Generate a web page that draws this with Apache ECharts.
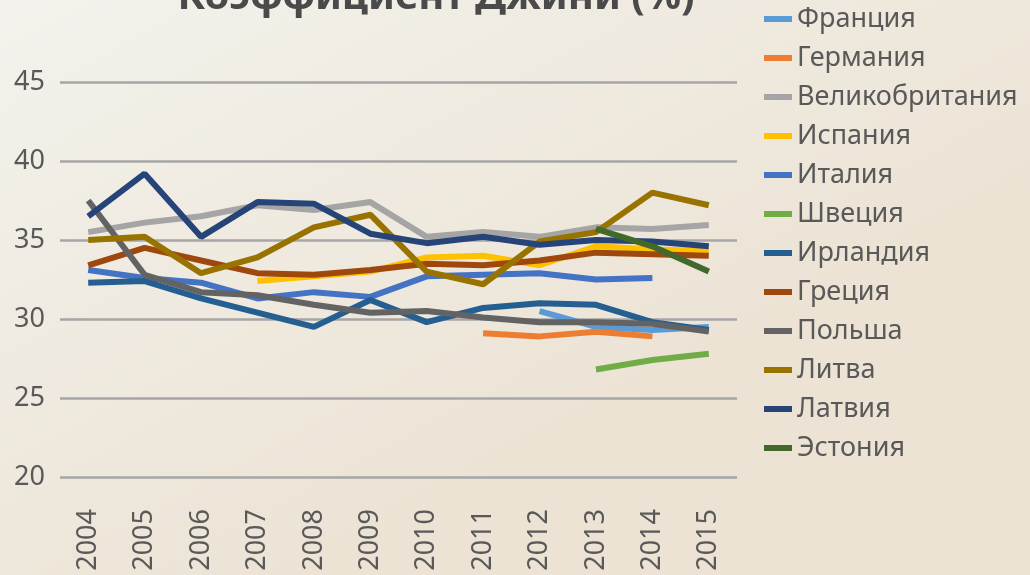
<!DOCTYPE html>
<html>
<head>
<meta charset="utf-8">
<script src="https://cdn.jsdelivr.net/npm/echarts@6/dist/echarts.min.js"></script>
<style>
html, body { margin: 0; padding: 0; }
#chart { width: 1030px; height: 575px; }
</style>
</head>
<body>
<div id="chart"></div>
<script>
// годы и значения коэффициента Джини по странам
var years = ['2004', '2005', '2006', '2007', '2008', '2009', '2010', '2011', '2012', '2013', '2014', '2015'];
var names = ['Франция', 'Германия', 'Великобритания', 'Испания', 'Италия', 'Швеция', 'Ирландия', 'Греция', 'Польша', 'Литва', 'Латвия', 'Эстония'];
var france    = [null, null, null, null, null, null, null, null, 30.5, 29.5, 29.3, 29.5];
var germany   = [null, null, null, null, null, null, null, 29.1, 28.9, 29.2, 28.9, null];
var uk        = [35.5, 36.1, 36.5, 37.2, 36.9, 37.4, 35.2, 35.5, 35.2, 35.8, 35.7, 35.95];
var spain     = [null, null, null, 32.4, 32.7, 33.0, 33.9, 34.0, 33.4, 34.6, 34.4, 34.3];
var italy     = [33.1, 32.6, 32.3, 31.3, 31.7, 31.4, 32.7, 32.8, 32.9, 32.5, 32.6, null];
var sweden    = [null, null, null, null, null, null, null, null, null, 26.8, 27.4, 27.8];
var ireland   = [32.3, 32.4, 31.3, 30.4, 29.5, 31.2, 29.8, 30.7, 31.0, 30.9, 29.8, 29.3];
var greece    = [33.4, 34.5, 33.7, 32.9, 32.8, 33.1, 33.5, 33.4, 33.7, 34.2, 34.1, 34.0];
var poland    = [37.5, 32.8, 31.7, 31.5, 30.9, 30.4, 30.5, 30.1, 29.8, 29.8, 29.7, 29.2];
var lithuania = [35.0, 35.2, 32.9, 33.9, 35.8, 36.6, 33.0, 32.2, 34.9, 35.5, 38.0, 37.2];
var latvia    = [36.5, 39.2, 35.2, 37.4, 37.3, 35.4, 34.8, 35.2, 34.7, 35.0, 34.9, 34.6];
var estonia   = [null, null, null, null, null, null, null, null, null, 35.7, 34.6, 33.0];

var values = [france, germany, uk, spain, italy, sweden, ireland, greece, poland, lithuania, latvia, estonia];
var colors = ['#5B9BD5', '#ED7D31', '#A5A5A5', '#FFC000', '#4472C4', '#70AD47',
              '#255E91', '#9E480E', '#636363', '#997300', '#264478', '#43682B'];

var myChart = echarts.init(document.getElementById('chart'));

var series = names.map(function (n, i) {
    return {
        name: n,
        type: 'line',
        data: values[i],
        showSymbol: false,
        symbol: 'none',
        connectNulls: false,
        lineStyle: { width: 6, color: colors[i] },
        itemStyle: { color: colors[i] }
    };
});

var option = {
    backgroundColor: {
        type: 'linear', x: 0, y: 0, x2: 0.3, y2: 1,
        colorStops: [{ offset: 0, color: '#F3F2EC' }, { offset: 1, color: '#ECE3D5' }]
    },
    animation: false,
    title: {
        text: 'Коэффициент Джини (%)',
        left: 431,
        top: -27,
        textAlign: 'center',
        textStyle: { fontFamily: 'Noto Sans', fontSize: 40, fontWeight: 'bold', color: '#4A4A4A' }
    },
    legend: {
        orient: 'vertical',
        left: 759,
        top: -1,
        icon: 'rect',
        itemWidth: 28,
        itemHeight: 6,
        itemGap: 9,
        textStyle: { fontFamily: 'Noto Sans', fontSize: 27, lineHeight: 30, color: '#595959' },
        data: names
    },
    grid: { left: 60, right: 293, top: 82, bottom: 98 },
    xAxis: {
        type: 'category',
        data: years,
        boundaryGap: true,
        axisLine: { show: false },
        axisTick: { show: false },
        axisLabel: {
            rotate: 90,
            margin: 32,
            fontFamily: 'Noto Sans',
            fontSize: 27,
            color: '#595959'
        }
    },
    yAxis: {
        type: 'value',
        min: 20,
        max: 45,
        interval: 5,
        axisLine: { show: false },
        axisTick: { show: false },
        axisLabel: { margin: 15, fontFamily: 'Noto Sans', fontSize: 27, color: '#595959' },
        splitLine: { lineStyle: { color: '#A6A6A6', width: 2.5 } }
    },
    series: series
};

myChart.setOption(option);
</script>
</body>
</html>
